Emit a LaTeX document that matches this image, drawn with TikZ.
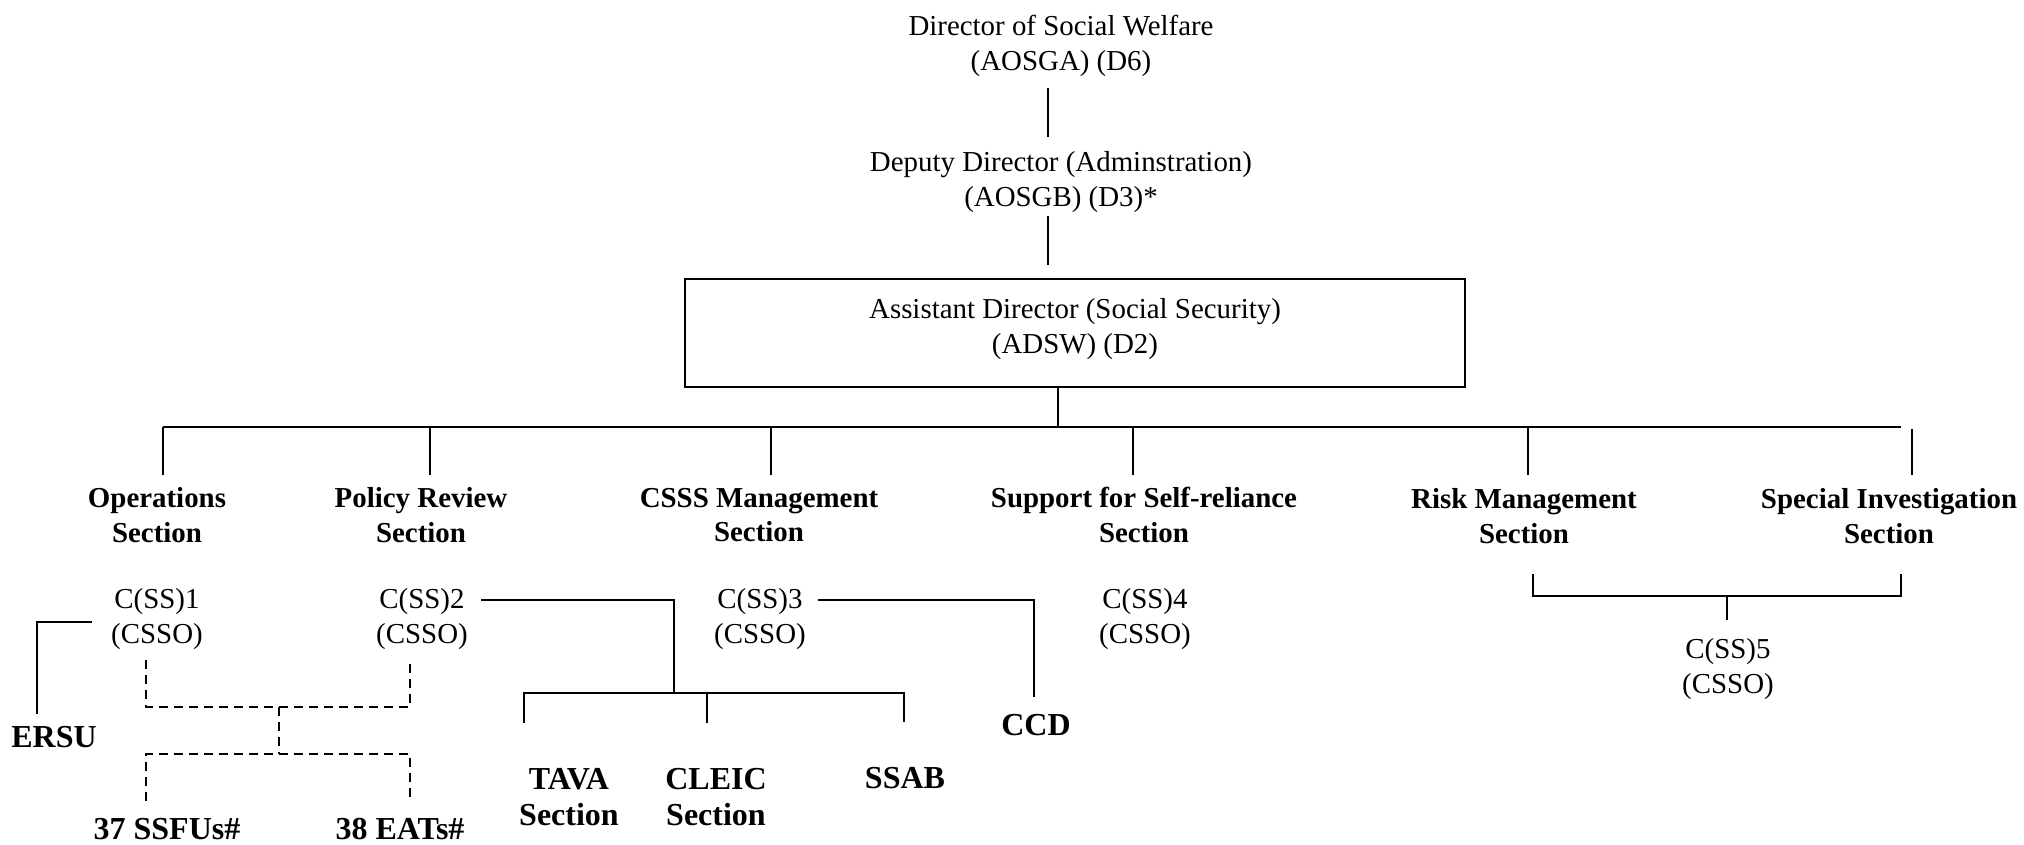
\documentclass[tikz,border=0pt]{standalone}
\usepackage{fontspec}
\setmainfont{Liberation Serif}
\begin{document}
\begin{tikzpicture}[x=0.5pt,y=-0.5pt,
  every node/.style={font=\fontsize{14.45}{17.25}\selectfont, align=center, inner sep=0pt},
  post/.style={},
  sect/.style={font=\fontsize{14.45}{17.25}\selectfont\bfseries},
  unit/.style={font=\fontsize{16}{18}\selectfont\bfseries},
  conn/.style={line width=1pt},
  dconn/.style={line width=1pt, dash pattern=on 4.5pt off 3pt},
  boxst/.style={draw, line width=1.2pt, minimum width=390pt, minimum height=54pt}]
\useasboundingbox (0,0) rectangle (2024,845);

% top levels
\node[post] (dir) at (1061,46) {Director of Social Welfare\\(AOSGA) (D6)};
\node[post] (dep) at (1061,182) {Deputy Director (Adminstration)\\(AOSGB) (D3)*};
\node[boxst] (adbox) at (1075,333) {};
\node[post] (ad) at (1075,329) {Assistant Director (Social Security)\\(ADSW) (D2)};

% sections
\node[sect] (ops) at (157,515) {Operations\\Section};
\node[sect] (pol) at (421,515) {Policy Review\\Section};
\node[sect] (csss) at (759,515) {CSSS Management\\Section};
\node[sect] (ssr) at (1144,515) {Support for Self-reliance\\Section};
\node[sect] (risk) at (1524,516) {Risk Management\\Section};
\node[sect] (spec) at (1889,516) {Special Investigation\\Section};

% chiefs
\node[post] (c1) at (157,619) {C(SS)1\\(CSSO)};
\node[post] (c2) at (422,619) {C(SS)2\\(CSSO)};
\node[post] (c3) at (760,619) {C(SS)3\\(CSSO)};
\node[post] (c4) at (1145,619) {C(SS)4\\(CSSO)};
\node[post] (c5) at (1728,669) {C(SS)5\\(CSSO)};

% units
\node[unit] (ersu) at (54,737) {ERSU};
\node[unit] (ssfu) at (167,829) {37 SSFUs\#};
\node[unit] (eats) at (400,829) {38 EATs\#};
\node[unit] (tava) at (569,797) {TAVA\\Section};
\node[unit] (cleic) at (716,797) {CLEIC\\Section};
\node[unit] (ssab) at (905,778) {SSAB};
\node[unit] (ccd) at (1036,725) {CCD};

% coordinates
\coordinate (dirB) at (1048,88);
\coordinate (depT) at (1048,137);
\coordinate (depB) at (1048,216);
\coordinate (adT) at (1048,265);
\coordinate (adB) at (1058,387);
\coordinate (bus) at (1058,427);
\coordinate (busL) at (163,427);
\coordinate (busR) at (1901,427);
\coordinate (opsT) at (163,475);
\coordinate (polT) at (430,475);
\coordinate (csssT) at (771,475);
\coordinate (ssrT) at (1133,475);
\coordinate (riskT) at (1528,475);
\coordinate (specU) at (1912,429);
\coordinate (specT) at (1912,475);
% C(SS)5 bracket
\coordinate (rb) at (1533,574);
\coordinate (sb) at (1901,574);
\coordinate (c5j) at (1727,596);
\coordinate (c5T) at (1727,620);
% ERSU
\coordinate (c1L) at (92,622);
\coordinate (ersuT) at (37,714);
% dashed
\coordinate (c1D) at (146,660);
\coordinate (c2D) at (410,660);
\coordinate (dj1) at (279,707);
\coordinate (dj2) at (279,754);
\coordinate (ssfuT) at (146,801);
\coordinate (eatsT) at (410,801);
% C(SS)2 branch
\coordinate (c2R) at (481,600);
\coordinate (c2j) at (674,693);
\coordinate (tavaT) at (524,723);
\coordinate (cleicT) at (707,723);
\coordinate (ssabU) at (904,690);
\coordinate (ssabT) at (904,722);
% C(SS)3 branch
\coordinate (c3R) at (818,600);
\coordinate (ccdT) at (1034,697);

% connectors
\draw[conn] (dirB) -- (depT);
\draw[conn] (depB) -- (adT);
\draw[conn] (adB) -- (bus);
\draw[conn] (busL) -- (busR);
\draw[conn] (busL) -- (opsT);
\draw[conn] (polT |- bus) -- (polT);
\draw[conn] (csssT |- bus) -- (csssT);
\draw[conn] (ssrT |- bus) -- (ssrT);
\draw[conn] (riskT |- bus) -- (riskT);
\draw[conn] (specU) -- (specT);

\draw[conn] (rb) |- (c5j) -| (sb);
\draw[conn] (c5j) -- (c5T);

\draw[conn] (c1L) -| (ersuT);

\draw[dconn] (c1D) |- (dj1) -| (c2D);
\draw[dconn] (dj1) -- (dj2);
\draw[dconn] (ssfuT) |- (dj2) -| (eatsT);

\draw[conn] (c2R) -| (c2j);
\draw[conn] (tavaT) |- (c2j) -- (c2j -| ssabU) -- (ssabT);
\draw[conn] (cleicT |- c2j) -- (cleicT);

\draw[conn] (c3R) -| (ccdT);
\end{tikzpicture}
\end{document}
